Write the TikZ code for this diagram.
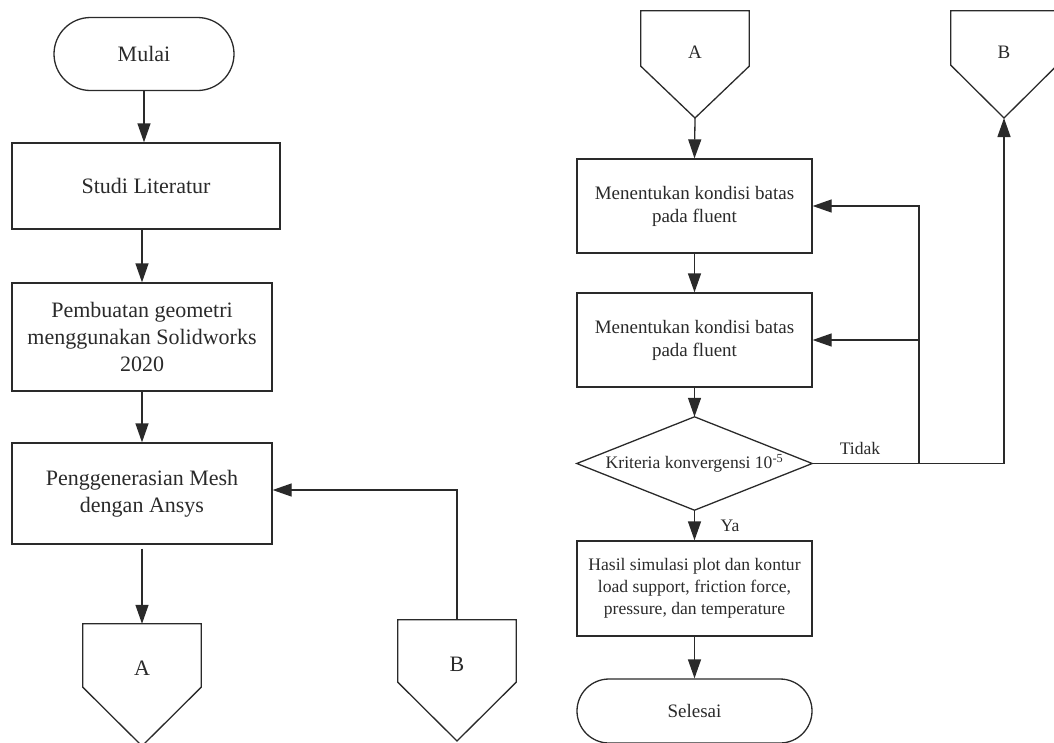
\documentclass[tikz,border=0pt]{standalone}
\usepackage{fontspec}
\setmainfont{Liberation Serif}
\usetikzlibrary{arrows.meta,shapes.misc,calc}
\definecolor{ink}{HTML}{2A2A2A}
\begin{document}
\begin{tikzpicture}[x=1pt,y=-1pt,
  line/.style={draw=ink,line width=1.3pt},
  arr/.style={line,-{Triangle[length=19pt,width=13pt]}},
  lfont/.style={font=\fontsize{22}{27}\selectfont,text=ink,align=center},
  rfont/.style={font=\fontsize{19}{23}\selectfont,text=ink,align=center},
  sfont/.style={font=\fontsize{17.6}{22}\selectfont,text=ink,align=center},
  procbox/.style={line,rectangle,inner sep=0pt},
  term/.style={line,rounded rectangle,inner sep=0pt},
  plain/.style={inner sep=0pt,minimum width=0pt}]
\useasboundingbox (0,0) rectangle (1054,742);
% ---------- left column ----------
\node[term,lfont,minimum width=180pt,minimum height=73pt] (mulai) at (144,54) {Mulai};
\node[procbox,lfont,minimum width=268pt,minimum height=86pt] (studi) at (146,186) {Studi Literatur};
\node[procbox,lfont,minimum width=260pt,minimum height=108pt] (pemb) at (142,337) {Pembuatan geometri\\menggunakan Solidworks\\2020};
\node[procbox,lfont,minimum width=260pt,minimum height=101pt] (pengg) at (142,493.5) {Penggenerasian Mesh\\dengan Ansys};
% off-page connector A (left)
\node[plain,minimum width=118pt,minimum height=63pt] (Al) at (142,655.5) {};
\coordinate (Altip) at (142,746);
\draw[line] (Al.north west) -- (Al.south west) -- (Altip) -- (Al.south east) -- (Al.north east) -- cycle;
\node[lfont] (Altxt) at (142,668) {A};
% off-page connector B (left)
\node[plain,minimum width=118pt,minimum height=62pt] (Bl) at (457,651) {};
\coordinate (Bltip) at (457,741);
\draw[line] (Bl.north west) -- (Bl.south west) -- (Bltip) -- (Bl.south east) -- (Bl.north east) -- cycle;
\node[lfont] (Bltxt) at (457,664) {B};
% left connectors
\draw[arr] (mulai.south) -- (mulai.south |- studi.north);
\draw[arr] (studi.south -| pemb.north) -- (pemb.north);
\draw[arr] (pemb.south) -- (pengg.north);
\draw[arr,shorten <=4pt] (pengg.south) -- (Al.north);
\draw[arr] (Bl.north) |- ($(pengg.east)+(0,-3.5)$);
% ---------- right column ----------
\node[plain,minimum width=108pt,minimum height=55pt] (Ar) at (695,38.5) {};
\coordinate (Artip) at (695,118);
\draw[line] (Ar.north west) -- (Ar.south west) -- (Artip) -- (Ar.south east) -- (Ar.north east) -- cycle;
\node[rfont] (Artxt) at (695,52) {A};
\node[plain,minimum width=106pt,minimum height=54pt] (Br) at (1004,38) {};
\coordinate (Brtip) at (1004,118);
\draw[line] (Br.north west) -- (Br.south west) -- (Brtip) -- (Br.south east) -- (Br.north east) -- cycle;
\node[rfont] (Brtxt) at (1004,52) {B};
\node[procbox,rfont,minimum width=235pt,minimum height=94pt] (box1) at (694.5,206) {Menentukan kondisi batas\\pada fluent};
\node[procbox,rfont,minimum width=235pt,minimum height=94pt] (box2) at (694.5,340) {Menentukan kondisi batas\\pada fluent};
\node[plain,sfont,minimum width=235pt,minimum height=93pt] (dec) at (694.5,463.5) {Kriteria konvergensi 10\textsuperscript{-5}};
\draw[line] (dec.north) -- (dec.east) -- (dec.south) -- (dec.west) -- cycle;
\node[procbox,sfont,minimum width=235pt,minimum height=95pt] (box3) at (694.5,588.5) {Hasil simulasi plot dan kontur\\load support, friction force,\\pressure, dan temperature};
\node[term,rfont,minimum width=235pt,minimum height=64pt] (selesai) at (694.5,711) {Selesai};
% right connectors
\draw[arr] (Artip) -- (box1.north);
\draw[arr] (box1.south) -- (box2.north);
\draw[arr] (box2.south) -- (dec.north);
\draw[arr] (dec.south) -- (box3.north);
\draw[arr] (box3.south) -- (selesai.north);
\coordinate (fb) at (919,463.5);
\draw[line] (dec.east) -- (fb);
\draw[arr] (fb) -| (Brtip);
\draw[arr] (fb) |- (box1.east);
\draw[arr] (fb |- box2.east) -- (box2.east);
\node[sfont] (tidak) at (860,448) {Tidak};
\node[sfont] (ya) at (730,526) {Ya};
\end{tikzpicture}
\end{document}
